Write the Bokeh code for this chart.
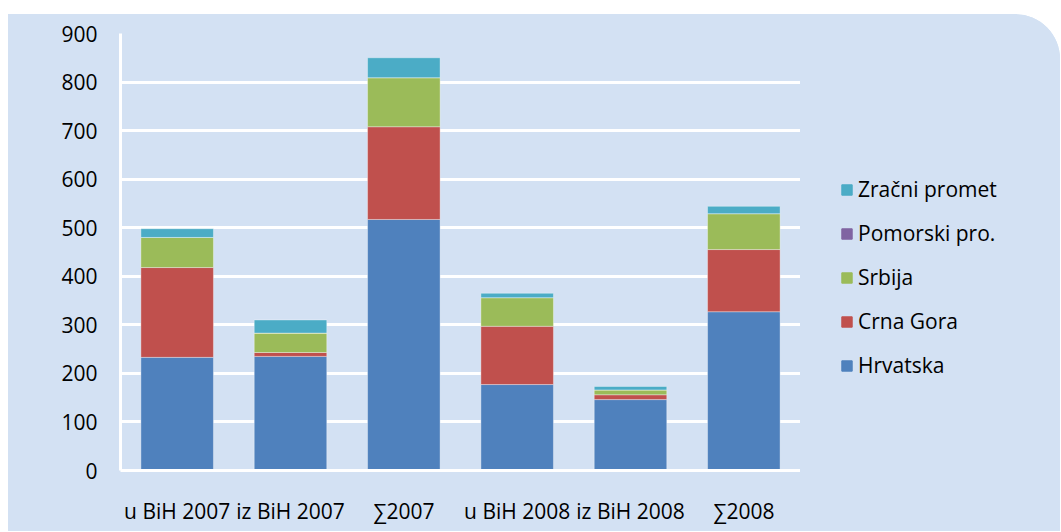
from bokeh.plotting import figure
from bokeh.layouts import row
from bokeh.models import FactorRange, Range1d, Legend, LegendItem, SingleIntervalTicker
from bokeh.embed import file_html
from bokeh.resources import INLINE

categories = ["u BiH 2007", "iz BiH 2007", "∑2007", "u BiH 2008", "iz BiH 2008", "∑2008"]
series_names = ["Hrvatska", "Crna Gora", "Srbija", "Pomorski pro.", "Zračni promet"]
hrvatska = [233, 235, 517, 177, 146, 327]
crna_gora = [185, 8, 191, 120, 10, 128]
srbija = [62, 40, 101, 59, 10, 74]
pomorski = [0, 0, 0, 0, 0, 0]
zracni = [18, 27, 41, 9, 7, 15]
colors = ["#4F81BD", "#C0504D", "#9BBB59", "#8064A2", "#4BACC6"]

BG = "#D3E1F3"
FONT = "Open Sans"
FS = "21px"

data = dict(cat=categories, Hrvatska=hrvatska, **{"Crna Gora": crna_gora},
            Srbija=srbija, **{"Pomorski pro.": pomorski, "Zračni promet": zracni})

# main chart
p = figure(x_range=FactorRange(*categories, range_padding=0), y_range=Range1d(0, 900),
           width=792, height=517, output_backend="svg", toolbar_location=None,
           min_border_left=112, min_border_right=0, min_border_top=19, min_border_bottom=61)
p.background_fill_color = BG
p.border_fill_color = BG
p.outline_line_color = None

p.vbar_stack(series_names, x="cat", width=0.64, color=colors,
             line_color="white", line_alpha=0.35, line_width=1, source=data)

p.xgrid.grid_line_color = None
p.ygrid.grid_line_color = "white"
p.ygrid.grid_line_width = 3
p.yaxis.ticker = SingleIntervalTicker(interval=100)

for ax in (p.xaxis[0], p.yaxis[0]):
    ax.axis_line_color = "white"
    ax.axis_line_width = 3
    ax.major_tick_line_color = None
    ax.minor_tick_line_color = None
    ax.major_label_text_font = FONT
    ax.major_label_text_font_size = FS
    ax.major_label_text_color = "black"

p.yaxis.major_label_standoff = 17
p.xaxis.major_label_standoff = 20

# legend panel
q = figure(x_range=Range1d(0, 1), y_range=Range1d(0, 1), width=260, height=517,
           output_backend="svg", toolbar_location=None, x_axis_type=None, y_axis_type=None,
           min_border=0)
q.background_fill_color = BG
q.border_fill_color = BG
q.outline_line_color = None
q.grid.grid_line_color = None

swatches = [q.vbar(x=[0], top=[0], bottom=[0], width=0, fill_color=c, line_color=c)
            for c in colors]
items = [LegendItem(label=name, renderers=[r]) for name, r in zip(series_names, swatches)]
items.reverse()
legend = Legend(items=items, location=(40, 91), glyph_width=13, glyph_height=13,
                label_standoff=5, spacing=16, label_height=20, padding=0, margin=0,
                border_line_color=None, background_fill_alpha=0,
                label_text_font=FONT, label_text_font_size=FS, label_text_color="black")
q.add_layout(legend, "center")

layout = row(p, q)
layout.styles = {"margin-top": "14px", "margin-left": "8px", "background-color": BG,
                 "border-top-right-radius": "45px", "overflow": "hidden"}

open("out.html", "w").write(file_html(layout, INLINE))
